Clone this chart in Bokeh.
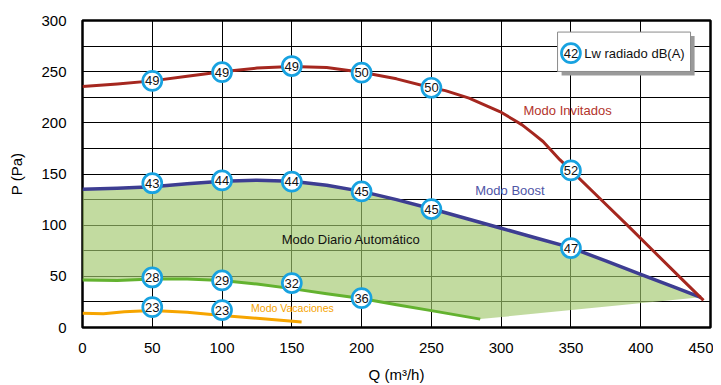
from bokeh.plotting import figure
from bokeh.models import Range1d, FixedTicker, BoxAnnotation
from bokeh.core.properties import value
from bokeh.embed import file_html
from bokeh.resources import INLINE

FONT = "Liberation Sans"

# ---- axis ticks ----
x_ticks = [0, 50, 100, 150, 200, 250, 300, 350, 400, 450]
y_ticks = [0, 50, 100, 150, 200, 250, 300]
y_grid = [0, 25, 50, 75, 100, 125, 150, 175, 200, 225, 250, 275, 300]

# ---- curves (Q m3/h, P Pa) ----
invitados_q = [0, 25, 50, 75, 100, 125, 150, 175, 200, 225, 250, 260, 277, 290, 299, 308, 315, 323, 330, 342, 350, 370, 390, 410, 430, 445]
invitados_p = [235.5, 238, 241, 245.5, 250, 253.5, 255, 254, 249.5, 243, 234.3, 231.5, 224.2, 216.4, 211, 203.8, 198, 189.5, 181.8, 164, 153.5, 127, 100.5, 73.5, 46.5, 26.5]

boost_q = [0, 25, 50, 75, 100, 125, 150, 175, 200, 225, 250, 275, 300, 325, 350, 375, 400, 425, 443]
boost_p = [135, 136, 137.5, 140.5, 143, 144, 143, 139, 133, 125, 116, 106.5, 97, 87.5, 78, 65, 52, 39, 29.5]

diario_q = [0, 25, 50, 75, 100, 125, 150, 175, 200, 225, 250, 285]
diario_p = [46.5, 46, 47.3, 47.5, 46, 42.5, 38, 33, 28.3, 22.3, 16.5, 8.2]

vacaciones_q = [0, 15, 30, 50, 75, 100, 125, 157]
vacaciones_p = [14, 13.5, 15.5, 16.6, 14.8, 11.7, 9, 5.3]

# ---- sound power markers Lw dB(A) ----
inv_mq = [50, 100, 150, 200, 250, 350]
inv_mp = [241, 249.5, 255.5, 249, 234.3, 153.5]
inv_lw = [49, 49, 49, 50, 50, 52]

boost_mq = [50, 100, 150, 200, 250, 350]
boost_mp = [141, 143.7, 142.5, 133, 115.7, 77.6]
boost_lw = [43, 44, 44, 45, 45, 47]

diario_mq = [50, 100, 150, 200]
diario_mp = [48.9, 46, 43.4, 28.7]
diario_lw = [28, 29, 32, 36]

vac_mq = [50, 100]
vac_mp = [19.9, 17]
vac_lw = [23, 23]

# ---- text labels ----
label_text = ["Modo Invitados", "Modo Boost", "Modo Diario Automático", "Modo Vacaciones"]
label_q = [347.6, 306.3, 192.4, 150.4]
label_p = [211.8, 133.6, 85.7, 19.0]
label_color = ["#b3342b", "#4f55a6", "#111111", "#f5a300"]
label_size = ["13px", "13px", "13px", "10.5px"]

legend_lw = [42]
legend_text = ["Lw radiado dB(A)"]

RED = "#a5271f"
BLUE = "#3d3d92"
GREEN = "#63b22f"
ORANGE = "#f6a500"
MARK = "#18a2e0"

p = figure(width=713, height=385, x_range=Range1d(0, 450), y_range=Range1d(0, 300),
           output_backend="svg", toolbar_location=None,
           min_border_left=82, min_border_right=3, min_border_top=20, min_border_bottom=56)

p.background_fill_color = "white"
p.outline_line_color = "black"
p.outline_line_width = 2.5
p.outline_line_alpha = 1

p.xgrid.ticker = FixedTicker(ticks=x_ticks)
p.ygrid.ticker = FixedTicker(ticks=y_grid)
for g in (p.xgrid, p.ygrid):
    g.grid_line_color = "black"
    g.grid_line_alpha = 1
    g.grid_line_width = 1

p.xaxis.ticker = FixedTicker(ticks=x_ticks)
p.yaxis.ticker = FixedTicker(ticks=y_ticks)
for ax in (p.xaxis, p.yaxis):
    ax.axis_line_color = None
    ax.major_tick_line_color = None
    ax.minor_tick_line_color = None
    ax.major_label_text_font = FONT
    ax.major_label_text_font_size = "15px"
    ax.major_label_text_color = "#000000"
    ax.axis_label_text_font = FONT
    ax.axis_label_text_font_size = "15px"
    ax.axis_label_text_font_style = "normal"
    ax.axis_label_text_color = "#000000"

p.xaxis.axis_label = "Q (m³/h)"
p.yaxis.axis_label = "P (Pa)"
p.xaxis.major_label_standoff = 9
p.xaxis.axis_label_standoff = 10
p.yaxis.major_label_standoff = 10
p.yaxis.axis_label_standoff = 13

# filled operating region (Modo Diario Automático)
fill_x = boost_q + diario_q[::-1]
fill_y = boost_p + diario_p[::-1]
p.patch(fill_x, fill_y, fill_color="#a1c86d", fill_alpha=0.65, line_color=None)

p.line(vacaciones_q, vacaciones_p, line_color=ORANGE, line_width=3, line_join="round")
p.line(diario_q, diario_p, line_color=GREEN, line_width=3, line_join="round")
p.line(boost_q, boost_p, line_color=BLUE, line_width=3.5, line_join="round")
p.line(invitados_q, invitados_p, line_color=RED, line_width=3, line_join="round")

def markers(q, pp, lw, level="glyph"):
    p.scatter(q, pp, size=19, marker="circle", fill_color="white",
              line_color=MARK, line_width=2.7, level=level)
    p.text(q, pp, text=[str(v) for v in lw], text_font=value(FONT),
           text_font_size="13px", text_align="center", text_baseline="middle",
           text_color="#111111", level=level)

markers(inv_mq, inv_mp, inv_lw)
markers(boost_mq, boost_mp, boost_lw)
markers(diario_mq, diario_mp, diario_lw)
markers(vac_mq, vac_mp, vac_lw)

for t, q, pp, c, s in zip(label_text, label_q, label_p, label_color, label_size):
    p.text([q], [pp], text=[t], text_font=value(FONT), text_font_size=s,
           text_align="center", text_baseline="middle", text_color=c)

# legend box with shadow
p.add_layout(BoxAnnotation(left=343.3, right=438.6, top=284.8, bottom=246.3,
                           fill_color="#9a9a9a", fill_alpha=1, line_color=None))
p.add_layout(BoxAnnotation(left=340.4, right=435.7, top=288.7, bottom=250.2,
                           fill_color="white", fill_alpha=1, line_color="#8a8a8a",
                           line_width=1, line_alpha=1))
markers([350], [268.1], legend_lw, level="overlay")
p.text([359.5], [268.1], text=legend_text, text_font=value(FONT), text_font_size="13px",
       text_align="left", text_baseline="middle", text_color="#111111", level="overlay")

open("out.html", "w").write(file_html(p, INLINE))
